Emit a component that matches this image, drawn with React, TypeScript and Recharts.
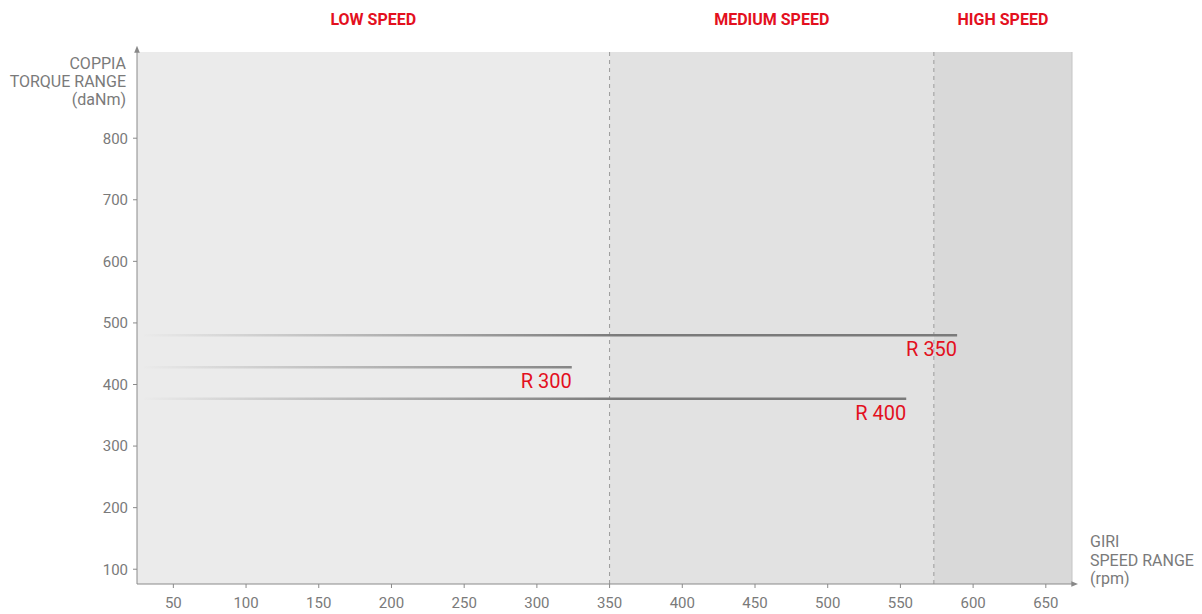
import {
  ComposedChart,
  Line,
  XAxis,
  YAxis,
  ReferenceArea,
  ReferenceLine,
} from "recharts";

const speedTicks = [50, 100, 150, 200, 250, 300, 350, 400, 450, 500, 550, 600, 650];
const torqueTicks = [100, 200, 300, 400, 500, 600, 700, 800];

const models = ["R 300", "R 350", "R 400"];
const torqueValues = [428, 480, 377];
const maxSpeeds = [324, 589, 554];
const minSpeed = 30;

const zoneNames = ["LOW SPEED", "MEDIUM SPEED", "HIGH SPEED"];
const zoneLimits = [25, 350, 573, 668];
const zoneFills = ["#ebebeb", "#e2e2e2", "#d9d9d9"];

const RED = "#e3101e";
const GREY = "#7a7a7a";

const series = models.map((name, i) => ({
  name,
  data: [
    { speed: minSpeed, torque: torqueValues[i] },
    { speed: maxSpeeds[i], torque: torqueValues[i] },
  ],
}));

const endLabel = (name: string) => (props: any) => {
  if (props.index !== 1) return null;
  return (
    <text
      key={name}
      x={props.x}
      y={props.y + 21}
      textAnchor="end"
      fill={RED}
      fontSize={20}
    >
      {name}
    </text>
  );
};

export default function App() {
  return (
    <div
      style={{
        position: "absolute",
        left: 0,
        top: 0,
        width: 1202,
        height: 614,
        background: "#fff",
        fontFamily: "Roboto, sans-serif",
      }}
    >
      <ComposedChart
        width={1202}
        height={614}
        margin={{ top: 52, right: 130, bottom: 0, left: 77 }}
      >
        <defs>
          <linearGradient
            id="fade"
            gradientUnits="userSpaceOnUse"
            x1={140}
            y1={0}
            x2={620}
            y2={0}
          >
            <stop offset="0" stopColor={GREY} stopOpacity={0} />
            <stop offset="1" stopColor={GREY} stopOpacity={1} />
          </linearGradient>
          <marker
            id="arrow"
            viewBox="0 0 10 10"
            refX={1}
            refY={5}
            markerWidth={7}
            markerHeight={7}
            markerUnits="userSpaceOnUse"
            orient="auto-start-reverse"
          >
            <path d="M0,1 L10,5 L0,9 z" fill="#888" />
          </marker>
        </defs>
        {zoneNames.map((z, i) => (
          <ReferenceArea
            key={z}
            x1={zoneLimits[i]}
            x2={zoneLimits[i + 1]}
            fill={zoneFills[i]}
            fillOpacity={1}
            stroke="none"
            label={{
              value: z,
              position: "top",
              offset: 27,
              fill: RED,
              fontSize: 16,
              fontWeight: 700,
            }}
          />
        ))}
        <ReferenceLine x={zoneLimits[1]} stroke="#9a9a9a" strokeDasharray="4 4" />
        <ReferenceLine x={zoneLimits[2]} stroke="#9a9a9a" strokeDasharray="4 4" />
        <ReferenceLine x={zoneLimits[3]} stroke="#c4c4c4" />
        <XAxis
          type="number"
          dataKey="speed"
          domain={[zoneLimits[0], zoneLimits[3]]}
          ticks={speedTicks}
          allowDataOverflow
          height={30}
          tickSize={4}
          tickMargin={9}
          axisLine={{ stroke: "#8a8a8a", markerEnd: "url(#arrow)" }}
          tickLine={{ stroke: "#8a8a8a" }}
          tick={{ fill: "#7a7a7a", fontSize: 15 }}
        />
        <YAxis
          type="number"
          dataKey="torque"
          domain={[76, 940]}
          ticks={torqueTicks}
          allowDataOverflow
          width={60}
          tickSize={4}
          tickMargin={5}
          axisLine={{ stroke: "#8a8a8a", markerStart: "url(#arrow)" }}
          tickLine={{ stroke: "#8a8a8a" }}
          tick={{ fill: "#7a7a7a", fontSize: 15 }}
        />
        {series.map((s) => (
          <Line
            key={s.name}
            data={s.data}
            dataKey="torque"
            type="linear"
            stroke="url(#fade)"
            strokeWidth={2.5}
            dot={false}
            activeDot={false}
            label={endLabel(s.name)}
            isAnimationActive={false}
          />
        ))}
      </ComposedChart>
      <div
        style={{
          position: "absolute",
          right: 1202 - 126,
          top: 55,
          textAlign: "right",
          color: "#7a7a7a",
          fontSize: 16,
          lineHeight: "18px",
          whiteSpace: "nowrap",
        }}
      >
        COPPIA
        <br />
        TORQUE RANGE
        <br />
        (daNm)
      </div>
      <div
        style={{
          position: "absolute",
          left: 1090,
          top: 533,
          textAlign: "left",
          color: "#7a7a7a",
          fontSize: 16,
          lineHeight: "18.5px",
          whiteSpace: "nowrap",
        }}
      >
        GIRI
        <br />
        SPEED RANGE
        <br />
        (rpm)
      </div>
    </div>
  );
}
